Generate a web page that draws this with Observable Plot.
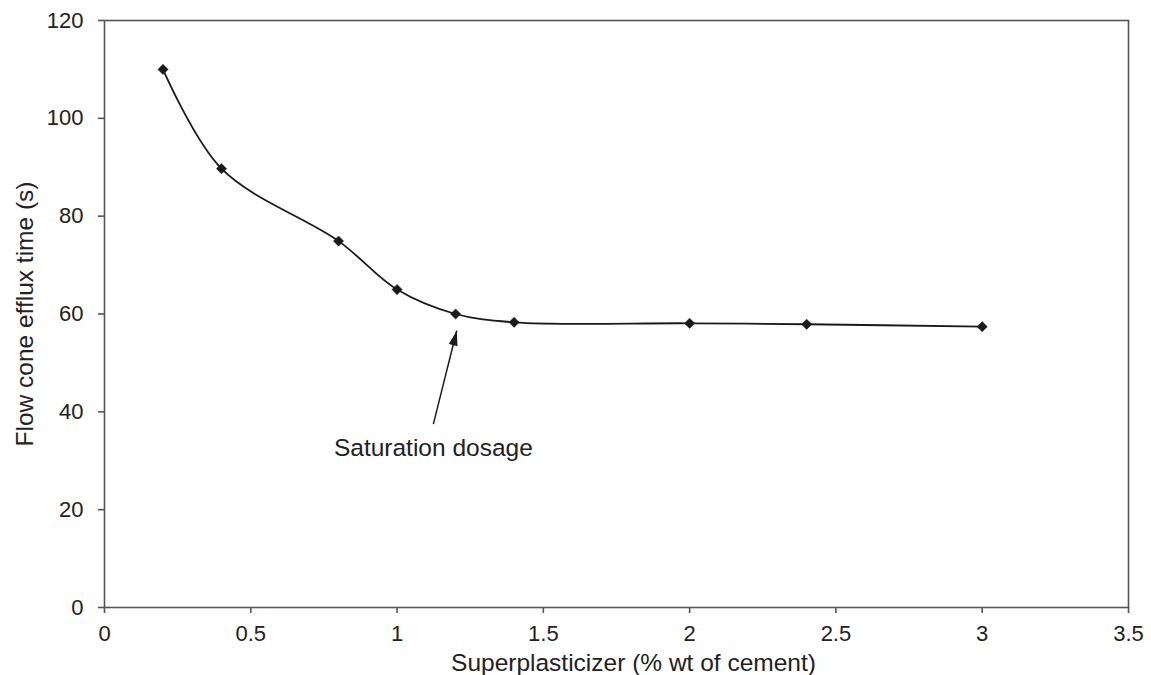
<!DOCTYPE html>
<html>
<head>
<meta charset="utf-8">
<script src="https://cdn.jsdelivr.net/npm/d3@7"></script>
<script src="https://cdn.jsdelivr.net/npm/@observablehq/plot@0.6"></script>
<style>
  body { margin: 0; background: #fff; }
</style>
</head>
<body>
<div id="chart"></div>
<script>
// Superplasticizer dosage (% wt of cement) vs. flow cone efflux time (s)
const dosage = [0.2, 0.4, 0.8, 1.0, 1.2, 1.4, 2.0, 2.4, 3.0];
const effluxTime = [110, 89.7, 74.9, 65, 60, 58.3, 58.1, 57.9, 57.4];

const xTicks = [0, 0.5, 1, 1.5, 2, 2.5, 3, 3.5];
const yTicks = [0, 20, 40, 60, 80, 100, 120];

const xTitle = "Superplasticizer (% wt of cement)";
const yTitle = "Flow cone efflux time (s)";

// Annotation: label and arrow pointing at the saturation point
const noteLabel = ["Saturation dosage"];
const noteFrom = [1.124, 37.5];
const noteTo = [1.204, 56.6];

const points = dosage.map((d, i) => ({dosage: d, time: effluxTime[i]}));
const note = [{
  label: noteLabel[0],
  x1: noteFrom[0], y1: noteFrom[1],
  x2: noteTo[0], y2: noteTo[1]
}];

// Narrow filled arrowhead, tip at the origin, tilted along the shaft
const headAngle = 14 * Math.PI / 180;
const arrowHead = {
  draw(ctx) {
    const pts = [[0, 0], [4.5, 15], [-4.5, 15]].map(([px, py]) => [
      px * Math.cos(headAngle) - py * Math.sin(headAngle),
      px * Math.sin(headAngle) + py * Math.cos(headAngle)
    ]);
    ctx.moveTo(pts[0][0], pts[0][1]);
    ctx.lineTo(pts[1][0], pts[1][1]);
    ctx.lineTo(pts[2][0], pts[2][1]);
    ctx.closePath();
  }
};

const ink = "#1a1a1a";
const axisGray = "#555";

const chart = Plot.plot({
  width: 1151,
  height: 675,
  marginLeft: 104,
  marginRight: 23,
  marginTop: 20,
  marginBottom: 68,
  style: {
    fontFamily: "'Liberation Sans', Arial, sans-serif",
    fontSize: "22px",
    color: "#222",
    background: "#fff"
  },
  x: {domain: [0, 3.5]},
  y: {domain: [0, 120]},
  marks: [
    Plot.frame({stroke: axisGray, strokeWidth: 1.6}),
    Plot.axisX(xTicks, {
      anchor: "bottom", tickSize: 6, tickPadding: 12,
      tickFormat: (d) => String(d),
      stroke: axisGray, strokeWidth: 1.6, fill: "#222", label: null
    }),
    Plot.axisY(yTicks, {
      anchor: "left", tickSize: 6, tickPadding: 15,
      tickFormat: (d) => String(d),
      stroke: axisGray, strokeWidth: 1.6, fill: "#222", label: null
    }),
    Plot.text([xTitle], {
      frameAnchor: "bottom", lineAnchor: "top", dx: 17, dy: 46,
      fontSize: 24.5, fill: "#222"
    }),
    Plot.text([yTitle], {
      frameAnchor: "left", textAnchor: "middle", lineAnchor: "top",
      rotate: -90, dx: -89,
      fontSize: 24.5, fill: "#222"
    }),
    Plot.line(points, {
      x: "dosage", y: "time", curve: "catmull-rom",
      stroke: ink, strokeWidth: 1.8
    }),
    Plot.dot(points, {
      x: "dosage", y: "time", symbol: "diamond2", r: 4.6,
      fill: ink, stroke: ink, strokeWidth: 0.5
    }),
    Plot.link(note, {
      x1: "x1", y1: "y1", x2: "x2", y2: "y2",
      stroke: ink, strokeWidth: 1.5
    }),
    Plot.dot(note, {
      x: "x2", y: "y2", symbol: arrowHead, fill: ink, stroke: "none"
    }),
    Plot.text(note, {
      x: "x1", y: 32.5, text: "label", lineAnchor: "middle",
      fontSize: 24.5, fill: "#222"
    })
  ]
});

document.getElementById("chart").appendChild(chart);
</script>
</body>
</html>
